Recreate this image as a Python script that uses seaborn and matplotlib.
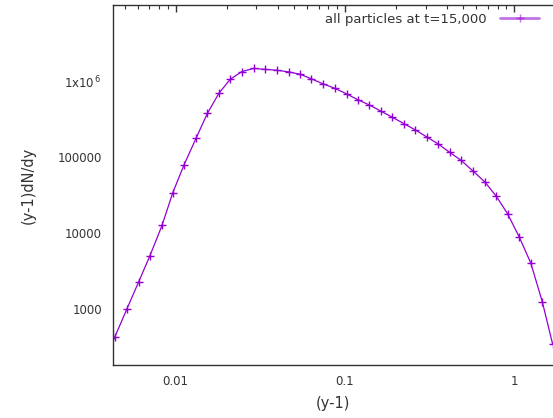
import matplotlib
matplotlib.use("Agg")
import matplotlib.pyplot as plt
import seaborn as sns
import pandas as pd
from matplotlib.ticker import LogLocator, FixedLocator, FixedFormatter, NullFormatter

# Data
gamma_minus_1 = [0.00372, 0.00436, 0.00515, 0.00604, 0.00705, 0.0083, 0.0096, 0.0112, 0.0132,
                 0.0154, 0.0180, 0.0210, 0.0246, 0.0289, 0.0339, 0.0398, 0.0466,
                 0.0544, 0.0630, 0.0744, 0.0873, 0.1024, 0.1197, 0.1396, 0.1633,
                 0.1905, 0.2234, 0.2613, 0.3070, 0.3565, 0.4165, 0.4870, 0.574,
                 0.673, 0.787, 0.916, 1.074, 1.257, 1.469, 1.690]
dn_dy = [192, 431, 1016, 2300, 5100, 12670, 33900, 79200, 177800,
         377000, 691000, 1056000, 1334000, 1469000, 1425000, 1387000, 1321000,
         1229000, 1079000, 919000, 804000, 679000, 567000, 486000, 403000,
         336000, 276000, 228000, 183000, 149000, 116000, 90800, 65400,
         47200, 30500, 18060, 8940, 4055, 1263, 352]
series_label = "all particles at t=15,000"

y_tick_values = [1000, 10000, 100000, 1000000]
y_tick_labels = ["1000", "10000", "100000", "1x10$^{\\,6}$"]
x_tick_values = [0.01, 0.1, 1]
x_tick_labels = ["0.01", "0.1", "1"]

df = pd.DataFrame({"x": gamma_minus_1, "y": dn_dy, "series": series_label})

sns.set_style("white")
plt.rcParams["font.family"] = ["DejaVu Sans"]
plt.rcParams["mathtext.fontset"] = "dejavusans"

fig = plt.figure(figsize=(5.53, 4.18), dpi=100)
ax = fig.add_axes([113 / 553, 53 / 418, 440 / 553, 360 / 418])

color = "#9400d3"
sns.lineplot(data=df, x="x", y="y", hue="series", palette=[color], ax=ax,
             marker="+", markersize=5.5, markeredgewidth=1.0, linewidth=0.9,
             markeredgecolor=color, estimator=None, sort=False)

ax.set_xscale("log")
ax.set_yscale("log")
ax.set_xlim(0.00426, 1.70)
ax.set_ylim(186, 1.0e7)

ax.xaxis.set_major_locator(FixedLocator(x_tick_values))
ax.xaxis.set_major_formatter(FixedFormatter(x_tick_labels))
ax.xaxis.set_minor_locator(LogLocator(base=10, subs=[2, 3, 4, 5, 6, 7, 8, 9], numticks=20))
ax.xaxis.set_minor_formatter(NullFormatter())
ax.yaxis.set_major_locator(FixedLocator(y_tick_values))
ax.yaxis.set_major_formatter(FixedFormatter(y_tick_labels))
ax.yaxis.set_minor_locator(LogLocator(base=10, subs=[2, 3, 4, 5, 6, 7, 8, 9], numticks=20))
ax.yaxis.set_minor_formatter(NullFormatter())

ax.tick_params(which="both", direction="in", top=True, right=False, colors="#333333",
               labelcolor="#333333", labelsize=8.5)
ax.tick_params(which="major", length=5, width=1)
ax.tick_params(which="minor", length=3, width=0.8)
ax.tick_params(axis="x", pad=7)
ax.tick_params(axis="y", pad=8)

for s in ax.spines.values():
    s.set_color("#333333")
    s.set_linewidth(1.0)
ax.spines["right"].set_visible(False)

ax.set_xlabel("(y-1)", fontsize=10.5, color="#333333", labelpad=6)
ax.set_ylabel("(y-1)dN/dy", fontsize=10.5, color="#333333", labelpad=16)

leg = ax.legend(loc="upper right", frameon=False, markerfirst=False, fontsize=9.5,
                handlelength=3.0, borderaxespad=0.2, handletextpad=1.0,
                bbox_to_anchor=(0.987, 1.0))
for t in leg.get_texts():
    t.set_color("#333333")
for h in leg.get_lines():
    h.set_linewidth(2.0)
    h.set_alpha(0.55)

fig.savefig("out.png", dpi=100)
